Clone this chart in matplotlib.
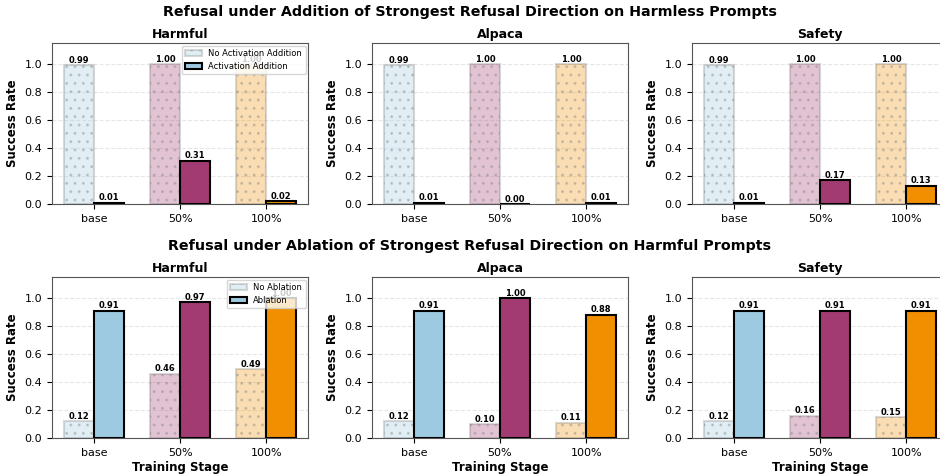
import numpy as np
import matplotlib
matplotlib.use("Agg")
import matplotlib.pyplot as plt

stages = ["base", "50%", "100%"]
datasets = ["Harmful", "Alpaca", "Safety"]
stage_colors = ["#9ecae1", "#a23b72", "#f18f01"]

# top row: activation addition on harmless prompts
add_without = {
    "Harmful": [0.99, 1.00, 1.00],
    "Alpaca": [0.99, 1.00, 1.00],
    "Safety": [0.99, 1.00, 1.00],
}
add_with = {
    "Harmful": [0.01, 0.31, 0.02],
    "Alpaca": [0.01, 0.00, 0.01],
    "Safety": [0.01, 0.17, 0.13],
}

# bottom row: ablation on harmful prompts
abl_without = {
    "Harmful": [0.12, 0.46, 0.49],
    "Alpaca": [0.12, 0.10, 0.11],
    "Safety": [0.12, 0.16, 0.15],
}
abl_with = {
    "Harmful": [0.91, 0.97, 1.00],
    "Alpaca": [0.91, 1.00, 0.88],
    "Safety": [0.91, 0.91, 0.91],
}

row_titles = ["Refusal under Addition of Strongest Refusal Direction on Harmless Prompts",
              "Refusal under Ablation of Strongest Refusal Direction on Harmful Prompts"]
legend_labels = [("No Activation Addition", "Activation Addition"),
                 ("No Ablation", "Ablation")]

W, H = 940, 476
fig = plt.figure(figsize=(W / 100, H / 100), dpi=100)

col_left = [52, 372, 692]
col_width = 256
row_top = [43, 277]
row_height = 161
width = 0.35


def draw_panel(ax, without, with_, show_legend, labels, show_xlabel):
    x = np.arange(len(stages))
    b1 = ax.bar(x - width / 2, without, width, color=stage_colors, alpha=0.3,
                hatch="..", edgecolor="gray", linewidth=1.5, zorder=3,
                label=labels[0])
    b2 = ax.bar(x + width / 2, with_, width, color=stage_colors,
                edgecolor="black", linewidth=1.5, zorder=3, label=labels[1])
    for bars, vals in ((b1, without), (b2, with_)):
        for bar, v in zip(bars, vals):
            ax.text(bar.get_x() + bar.get_width() / 2, v + 0.003, f"{v:.2f}",
                    ha="center", va="bottom", fontsize=6, fontweight="bold", zorder=4)
    ax.set_ylim(0, 1.15)
    ax.set_xticks(x)
    ax.set_xticklabels(stages, fontsize=8)
    ax.tick_params(axis="y", labelsize=8)
    ax.set_ylabel("Success Rate", fontsize=8.5, fontweight="bold")
    if show_xlabel:
        ax.set_xlabel("Training Stage", fontsize=8.5, fontweight="bold", labelpad=2)
    ax.grid(axis="y", linestyle="--", alpha=0.3, zorder=0)
    for s in ax.spines.values():
        s.set_color("#555555")
    if show_legend:
        leg = ax.legend(fontsize=6, loc="upper right", framealpha=0.8,
                        borderaxespad=0.3)
        leg.set_zorder(5)


for r in range(2):
    for c, name in enumerate(datasets):
        left = col_left[c] / W
        bottom = 1 - (row_top[r] + row_height) / H
        ax = fig.add_axes([left, bottom, col_width / W, row_height / H])
        if r == 0:
            draw_panel(ax, add_without[name], add_with[name], c == 0,
                       legend_labels[0], False)
        else:
            draw_panel(ax, abl_without[name], abl_with[name], c == 0,
                       legend_labels[1], True)
        ax.set_title(name, fontsize=9, fontweight="bold", pad=3.5)

fig.text(0.5, 1 - 12 / H, row_titles[0], ha="center", va="center",
         fontsize=10.3, fontweight="bold")
fig.text(0.5, 1 - 246 / H, row_titles[1], ha="center", va="center",
         fontsize=10.3, fontweight="bold")

fig.savefig("out.png", dpi=100)
